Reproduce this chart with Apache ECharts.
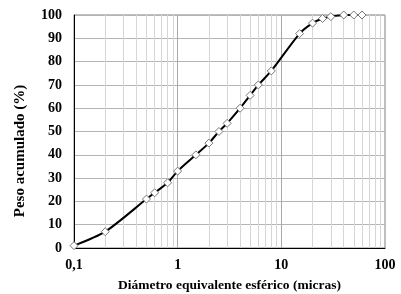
<!DOCTYPE html>
<html>
<head>
<meta charset="utf-8">
<script src="https://cdn.jsdelivr.net/npm/echarts@6/dist/echarts.min.js"></script>
<style>html,body{margin:0;padding:0;background:#fff}#c{width:401px;height:294px}</style>
</head>
<body>
<div id="c"></div>
<script>
var diameters = [0.1, 0.2, 0.5, 0.6, 0.8, 1.0, 1.5, 2.0, 2.5, 3.0, 4.0, 5.0, 6.0, 8.0, 15, 20, 25, 30, 40, 50, 60];
var pesoAcumulado = [1, 7, 21, 23.7, 28, 33, 40, 45, 50, 53.5, 60, 65.5, 70, 76, 92, 96.5, 98.5, 99.3, 100, 100, 100];
var xMajorTicks = [0.1, 1, 10, 100];
var xMinorGrid = [0.2, 0.3, 0.4, 0.5, 0.6, 0.7, 0.8, 0.9, 2, 3, 4, 5, 6, 7, 8, 9, 20, 30, 40, 50, 60, 70, 80, 90];
var xMajorGrid = [1, 10];
var yTicks = [0, 10, 20, 30, 40, 50, 60, 70, 80, 90, 100];

var chart = echarts.init(document.getElementById('c'), null, {renderer: 'canvas'});
var serif = '"Liberation Serif", "Times New Roman", serif';
chart.setOption({
  animation: false,
  grid: {left: 74, right: 16, top: 15, bottom: 46, show: true, borderColor: '#808080', borderWidth: 1,
         containLabel: false, outerBoundsMode: 'none'},
  xAxis: {
    type: 'log', logBase: 10, min: 0.1, max: 100,
    name: 'Diámetro equivalente esférico (micras)',
    nameLocation: 'middle', nameGap: 31,
    nameTextStyle: {fontFamily: serif, fontWeight: 'bold', fontSize: 13.5, color: '#000'},
    axisLine: {show: true, lineStyle: {color: '#000', width: 1}},
    axisTick: {show: false},
    splitLine: {show: false},
    axisLabel: {
      fontFamily: serif, fontWeight: 'bold', fontSize: 14, color: '#000', margin: 10,
      formatter: function (v) {
        for (var i = 0; i < xMajorTicks.length; i++) {
          if (Math.abs(v - xMajorTicks[i]) < 1e-9) return String(xMajorTicks[i]).replace('.', ',');
        }
        return '';
      }
    }
  },
  yAxis: {
    type: 'value', min: 0, max: 100, interval: 10,
    name: 'Peso acumulado (%)',
    nameLocation: 'middle', nameGap: 46,
    nameTextStyle: {fontFamily: serif, fontWeight: 'bold', fontSize: 15, color: '#000', padding: [0, 39, 0, 0]},
    axisLine: {show: true, lineStyle: {color: '#000', width: 1}},
    axisTick: {show: false},
    splitLine: {show: true, lineStyle: {color: '#b4b4b4', width: 1}},
    axisLabel: {
      fontFamily: serif, fontWeight: 'bold', fontSize: 14, color: '#000', margin: 12,
      formatter: function (v) { return yTicks.indexOf(v) >= 0 ? String(v) : ''; }
    }
  },
  series: [
    {
      type: 'line', silent: true, data: [], symbol: 'none',
      markLine: {
        silent: true, symbol: 'none', label: {show: false},
        lineStyle: {color: '#d6d6d6', width: 1, type: 'solid'},
        data: xMinorGrid.map(function (v) { return {xAxis: v}; })
      }
    },
    {
      type: 'line', silent: true, data: [], symbol: 'none',
      markLine: {
        silent: true, symbol: 'none', label: {show: false},
        lineStyle: {color: '#a8a8a8', width: 1, type: 'solid'},
        data: xMajorGrid.map(function (v) { return {xAxis: v}; })
      }
    },
    {
      type: 'line',
      data: diameters.map(function (d, i) { return [d, pesoAcumulado[i]]; }),
      smooth: 0.25,
      symbol: 'diamond', symbolSize: 8, showAllSymbol: true,
      itemStyle: {color: '#fff', borderColor: '#777', borderWidth: 1},
      lineStyle: {color: '#000', width: 2},
      z: 5
    }
  ]
});
</script>
</body>
</html>
